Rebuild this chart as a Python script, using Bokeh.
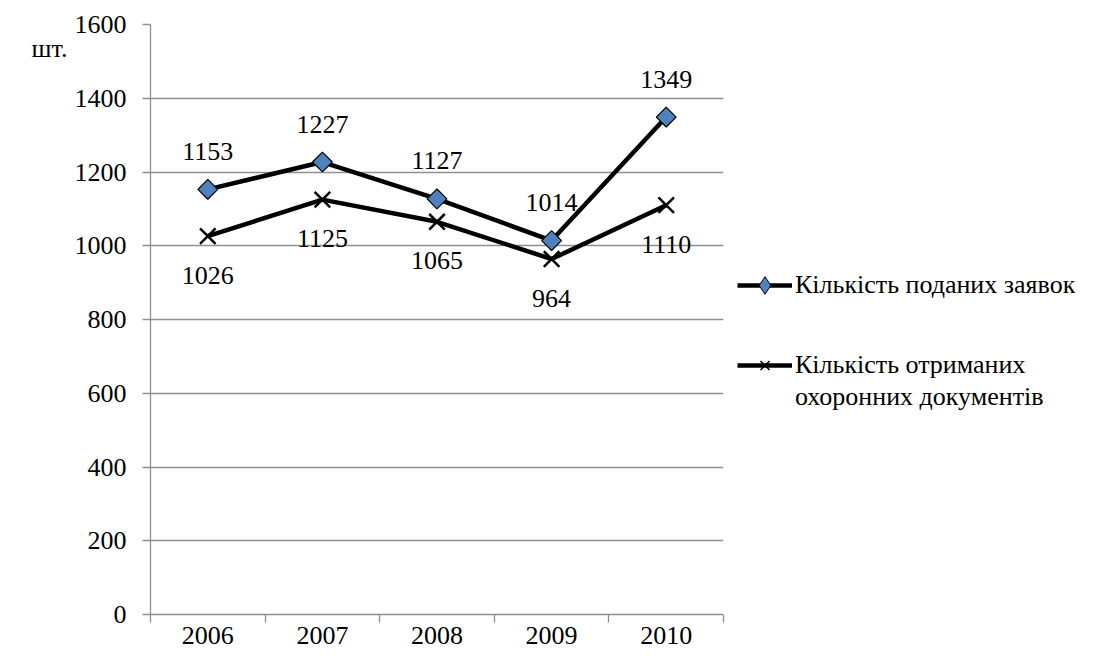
import math
from bokeh.plotting import figure
from bokeh.layouts import row
from bokeh.models import Range1d, FixedTicker, Legend, LegendItem, LinearAxis
from bokeh.core.properties import value
from bokeh.embed import file_html
from bokeh.resources import INLINE

years = ["2006", "2007", "2008", "2009", "2010"]
applications = [1153, 1227, 1127, 1014, 1349]
documents = [1026, 1125, 1065, 964, 1110]
y_ticks = [0, 200, 400, 600, 800, 1000, 1200, 1400, 1600]
series_names = ["Кількість поданих заявок", "Кількість отриманих\nохоронних документів"]
unit_label = "шт."
unit_label_level = 1535

FONT = "Liberation Serif"
FS = "26px"
GRAY = "#8f8f8f"
BLUE = "#4F81BD"

xs = list(range(1, len(years) + 1))

p = figure(frame_width=573, frame_height=590, output_backend="svg", toolbar_location=None,
           x_range=Range1d(0.5, len(years) + 0.5), y_range=Range1d(0, 1600),
           min_border_left=150, min_border_right=10, min_border_top=24, min_border_bottom=36)
p.outline_line_color = None
p.background_fill_color = "white"
p.border_fill_color = "white"

p.xgrid.grid_line_color = None
p.ygrid.grid_line_color = GRAY
p.ygrid.grid_line_width = 1.3
p.ygrid.ticker = FixedTicker(ticks=y_ticks)

yax = p.yaxis[0]
yax.ticker = FixedTicker(ticks=y_ticks)
yax.axis_line_color = GRAY
yax.axis_line_width = 1.3
yax.major_tick_line_color = GRAY
yax.major_tick_line_width = 1.3
yax.major_tick_out = 8
yax.major_tick_in = 0
yax.minor_tick_line_color = None
yax.major_label_standoff = 16
yax.major_label_text_font = FONT
yax.major_label_text_font_size = FS
yax.major_label_text_color = "black"

# unit label ("шт.") as an extra, line-less left axis
unit_axis = LinearAxis(ticker=FixedTicker(ticks=[unit_label_level]),
                       major_label_overrides={unit_label_level: unit_label},
                       axis_line_color=None, major_tick_line_color=None,
                       minor_tick_line_color=None, major_tick_out=0, major_tick_in=0,
                       major_label_standoff=4, major_label_text_font=FONT,
                       major_label_text_font_size=FS, major_label_text_color="black")
p.add_layout(unit_axis, "left")

xax = p.xaxis[0]
xax.ticker = FixedTicker(ticks=xs, minor_ticks=[i + 0.5 for i in range(len(years) + 1)])
xax.major_label_overrides = {x: y for x, y in zip(xs, years)}
xax.axis_line_color = GRAY
xax.axis_line_width = 1.3
xax.major_tick_line_color = None
xax.major_tick_out = 0
xax.major_tick_in = 0
xax.minor_tick_line_color = GRAY
xax.minor_tick_line_width = 1.3
xax.minor_tick_out = 8
xax.minor_tick_in = 0
xax.major_label_standoff = 4
xax.major_label_text_font = FONT
xax.major_label_text_font_size = FS
xax.major_label_text_color = "black"

p.line(xs, applications, line_width=4.5, line_color="black")
p.scatter(xs, applications, marker="square", angle=math.pi / 4, size=14,
          fill_color=BLUE, line_color="black", line_width=1.2)
p.line(xs, documents, line_width=4.5, line_color="black")
p.scatter(xs, documents, marker="x", size=22, line_color="black", line_width=2.5)

p.text(xs, applications, text=[str(v) for v in applications], y_offset=-38,
       text_align="center", text_baseline="middle", text_font=value(FONT),
       text_font_size=FS, text_color="black")
p.text(xs, documents, text=[str(v) for v in documents], y_offset=39,
       text_align="center", text_baseline="middle", text_font=value(FONT),
       text_font_size=FS, text_color="black")

# legend panel (its frame is aligned with the chart's frame by the row layout)
lf = figure(width=367, height=650, output_backend="svg", toolbar_location=None,
            x_axis_type=None, y_axis_type=None, min_border=0,
            x_range=Range1d(0, 1), y_range=Range1d(0, 1))
lf.outline_line_color = None
lf.grid.visible = False

la = lf.line(xs, applications, line_width=4.5, line_color="black", visible=False)
ma = lf.scatter(xs, applications, marker="diamond", size=16, fill_color=BLUE,
                line_color="black", line_width=1, visible=False)
lb = lf.line(xs, documents, line_width=4.5, line_color="black", visible=False)
mb = lf.scatter(xs, documents, marker="x", size=14, line_color="black",
                line_width=1.5, visible=False)
blank = lf.line(xs, documents, line_alpha=0, visible=False)

lines2 = series_names[1].split("\n")

common = dict(glyph_width=55, label_standoff=3, spacing=0,
              padding=0, margin=0, border_line_color=None, background_fill_alpha=0,
              inactive_fill_alpha=0,
              label_text_font=FONT, label_text_font_size=FS, label_text_color="black")

legend_a = Legend(items=[LegendItem(label=series_names[0], renderers=[la, ma])],
                  location=(4, 307), glyph_height=44, **common)
legend_b = Legend(items=[LegendItem(label=lines2[0], renderers=[lb, mb]),
                         LegendItem(label=lines2[1], renderers=[blank])],
                  location=(4, 201), glyph_height=32, **common)
lf.add_layout(legend_a)
lf.add_layout(legend_b)

layout = row(p, lf)
open("out.html", "w").write(file_html(layout, INLINE))
